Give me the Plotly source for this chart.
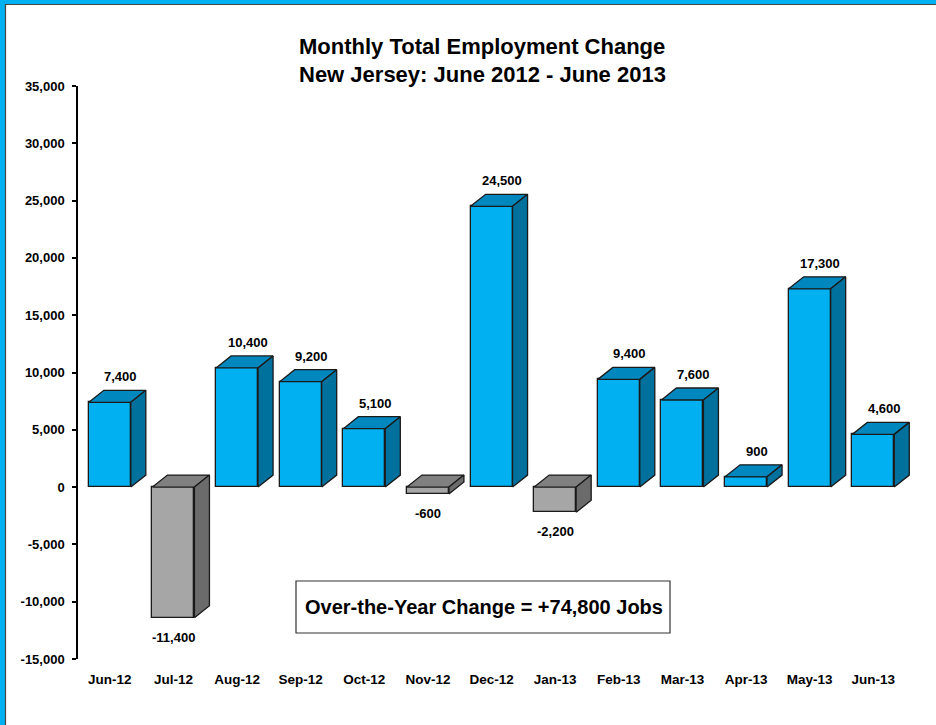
import plotly.graph_objects as go

months = ["Jun-12", "Jul-12", "Aug-12", "Sep-12", "Oct-12", "Nov-12", "Dec-12",
          "Jan-13", "Feb-13", "Mar-13", "Apr-13", "May-13", "Jun-13"]
changes = [7400, -11400, 10400, 9200, 5100, -600, 24500, -2200, 9400, 7600, 900, 17300, 4600]
ytick_vals = [-15000, -10000, -5000, 0, 5000, 10000, 15000, 20000, 25000, 30000, 35000]
ytick_text = ["-15,000", "-10,000", "-5,000", "0", "5,000", "10,000", "15,000",
              "20,000", "25,000", "30,000", "35,000"]
title_lines = ["Monthly Total Employment Change", "New Jersey: June 2012 - June 2013"]
summary_text = "Over-the-Year Change = +74,800 Jobs"

# layout geometry (pixels)
W, H = 936, 725
L, R, T, B = 78, 15, 86, 66
PW, PH = W - L - R, H - T - B
Y0, Y1 = -15000, 35000
XMAX = len(months) - 0.25

bar_w = 0.66
dx = 0.236                       # depth in category units
dy = 12 * (Y1 - Y0) / PH         # depth in data units (12px)

BLUE = ("#00B0F0", "#0087BD", "#00709C")
GRAY = ("#A6A6A6", "#808080", "#6B6B6B")
EDGE = "#1a1a1a"
FONT = "Liberation Sans, Arial, sans-serif"

def bold(s):
    return f"<b>{s}</b>"

x = list(range(len(months)))
fig = go.Figure()

fig.add_trace(go.Bar(
    x=x, y=changes, width=bar_w,
    marker=dict(color=[BLUE[0] if v >= 0 else GRAY[0] for v in changes],
                line=dict(color=EDGE, width=1.3)),
    hoverinfo="skip", showlegend=False))

for i, v in enumerate(changes):
    c = BLUE if v >= 0 else GRAY
    x0, x1 = i - bar_w / 2, i + bar_w / 2
    ytop, ybot = max(v, 0), min(v, 0)
    # top face
    fig.add_trace(go.Scatter(
        x=[x0, x1, x1 + dx, x0 + dx, x0],
        y=[ytop, ytop, ytop + dy, ytop + dy, ytop],
        fill="toself", fillcolor=c[1], mode="lines",
        line=dict(color=EDGE, width=1.3), hoverinfo="skip", showlegend=False))
    # side face
    fig.add_trace(go.Scatter(
        x=[x1, x1, x1 + dx, x1 + dx, x1],
        y=[ybot, ytop, ytop + dy, ybot + dy, ybot],
        fill="toself", fillcolor=c[2], mode="lines",
        line=dict(color=EDGE, width=1.3), hoverinfo="skip", showlegend=False))

annotations = []
for i, v in enumerate(changes):
    if v >= 0:
        annotations.append(dict(x=i + 0.17, y=v + dy, xref="x", yref="y",
                                text=bold(f"{v:,}"), showarrow=False, yanchor="bottom",
                                yshift=4, font=dict(family=FONT, size=13, color="black")))
    else:
        annotations.append(dict(x=i, y=v, xref="x", yref="y",
                                text=bold(f"{v:,}"), showarrow=False, yanchor="top",
                                yshift=-10, font=dict(family=FONT, size=13, color="black")))

def px_x(X):
    return (X - L) / PW

def px_y(Y):
    return (H - B - Y) / PH

annotations.append(dict(x=px_x(482), y=px_y(46), xref="paper", yref="paper", text=bold(title_lines[0]),
                        showarrow=False, xanchor="center", yanchor="middle",
                        font=dict(family=FONT, size=22, color="black")))
annotations.append(dict(x=px_x(482), y=px_y(75), xref="paper", yref="paper", text=bold(title_lines[1]),
                        showarrow=False, xanchor="center", yanchor="middle",
                        font=dict(family=FONT, size=22, color="black")))
annotations.append(dict(x=px_x(484), y=px_y(607), xref="paper", yref="paper", text=bold(summary_text),
                        showarrow=False, xanchor="center", yanchor="middle",
                        font=dict(family=FONT, size=20, color="black")))

shapes = [
    dict(type="rect", xref="paper", yref="paper", x0=px_x(296), x1=px_x(670), y0=px_y(633), y1=px_y(581),
         line=dict(color="#333333", width=1.2), fillcolor="white", layer="below"),
    dict(type="rect", xref="paper", yref="paper", x0=px_x(0), x1=px_x(W), y0=px_y(4), y1=px_y(-2),
         line=dict(width=0), fillcolor="#00B0F0"),
    dict(type="rect", xref="paper", yref="paper", x0=px_x(-2), x1=px_x(5), y0=px_y(H + 2), y1=px_y(0),
         line=dict(width=0), fillcolor="#00B0F0"),
    dict(type="line", xref="paper", yref="paper", x0=px_x(5), x1=px_x(W), y0=px_y(4.5), y1=px_y(4.5),
         line=dict(color="#444444", width=1.2)),
    dict(type="line", xref="paper", yref="paper", x0=px_x(5.5), x1=px_x(5.5), y0=px_y(4), y1=px_y(H + 2),
         line=dict(color="#444444", width=1.2)),
]

fig.update_layout(
    width=W, height=H,
    margin=dict(l=L, r=R, t=T, b=B),
    paper_bgcolor="white", plot_bgcolor="rgba(0,0,0,0)",
    bargap=0, showlegend=False,
    annotations=annotations, shapes=shapes,
    xaxis=dict(range=[-0.5, XMAX], tickvals=x, ticktext=[bold(m) for m in months],
               showline=False, showgrid=False, zeroline=False, ticks="",
               ticklabelstandoff=10,
               tickfont=dict(family=FONT, size=13.5, color="black")),
    yaxis=dict(range=[Y0, Y1], tickvals=ytick_vals, ticktext=[bold(t) for t in ytick_text],
               showline=True, linecolor="black", linewidth=1.5,
               ticks="outside", ticklen=4, tickcolor="black", tickwidth=1.5,
               showgrid=False, zeroline=False, ticklabelstandoff=5,
               tickfont=dict(family=FONT, size=13, color="black")),
)

fig.write_html("out.html", config={"displayModeBar": False},
               post_script="document.body.style.margin='0';document.body.style.padding='0';")
